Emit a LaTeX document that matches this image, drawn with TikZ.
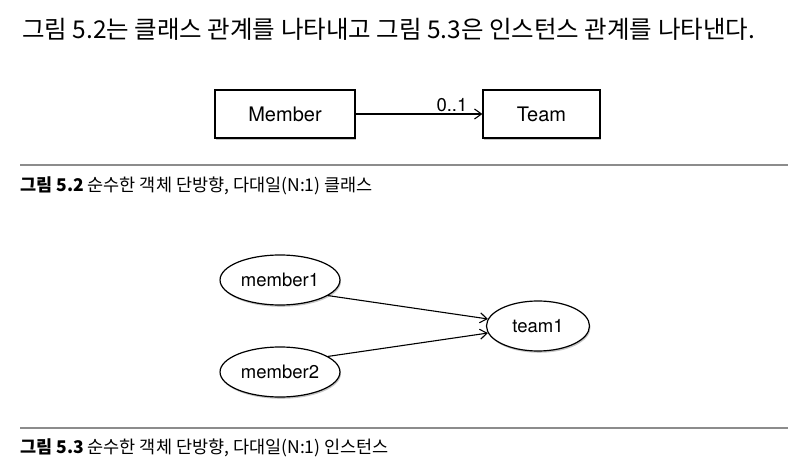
\documentclass[tikz,border=0pt]{standalone}
\usepackage{fontspec}
\setsansfont{TeX Gyre Heros}
\newfontfamily\krfont{Noto Sans CJK KR}
\usetikzlibrary{arrows.meta,shapes.geometric,shadows}

\tikzset{
  classbox/.style={draw,line width=1.2pt,minimum height=48pt,font=\sffamily\fontsize{20}{20}\selectfont,
    drop shadow={opacity=0.45,shadow xshift=1pt,shadow yshift=-1.8pt},fill=white},
  objnode/.style={ellipse,draw,line width=1.2pt,font=\sffamily\fontsize{18.5}{18.5}\selectfont,
    drop shadow={opacity=0.45,shadow xshift=1pt,shadow yshift=-1.8pt},fill=white},
  assoc/.style={line width=1.1pt,-{Straight Barb[length=7pt,width=10pt]}},
  sepline/.style={line width=1.6pt,black!45},
  caption/.style={anchor=west,inner sep=0pt,font=\krfont\fontsize{17.5}{17.5}\selectfont},
}

\begin{document}
\begin{tikzpicture}[x=1pt,y=-1pt]%
\useasboundingbox (0,0) rectangle (803,470);%
% intro text
\node[anchor=west,inner sep=0pt,font=\krfont\fontsize{24.5}{24.5}\selectfont] (intro) at (22,29)
  {그림 5.2는 클래스 관계를 나타내고 그림 5.3은 인스턴스 관계를 나타낸다.};%
% class diagram
\node[classbox,minimum width=140pt] (member) at (285,114) {Member};%
\node[classbox,minimum width=117pt] (team) at (541.5,114) {Team};%
\draw[assoc] (member) -- node[above,pos=0.76,inner sep=2pt,font=\sffamily\fontsize{18.5}{18.5}\selectfont] (mult) {0..1} (team);%
\coordinate (r1a) at (20,165); \coordinate (r1b) at (788,165);%
\draw[sepline] (r1a) -- (r1b);%
\node[caption] (cap1) at (20,186) {\textbf{그림 5.2} 순수한 객체 단방향, 다대일(N:1) 클래스};%
% instance diagram
\node[objnode,minimum width=116pt,minimum height=50pt] (member1) at (280,280) {member1};%
\node[objnode,minimum width=116pt,minimum height=50pt] (member2) at (280,372) {member2};%
\node[objnode,minimum width=103pt,minimum height=50pt] (team1) at (538,326) {team1};%
\draw[assoc] (member1.-18) -- (team1.172);%
\draw[assoc] (member2.18) -- (team1.-172);%
\coordinate (r2a) at (20,428); \coordinate (r2b) at (788,428);%
\draw[sepline] (r2a) -- (r2b);%
\node[caption] (cap2) at (20,448) {\textbf{그림 5.3} 순수한 객체 단방향, 다대일(N:1) 인스턴스};%
\end{tikzpicture}
\end{document}
